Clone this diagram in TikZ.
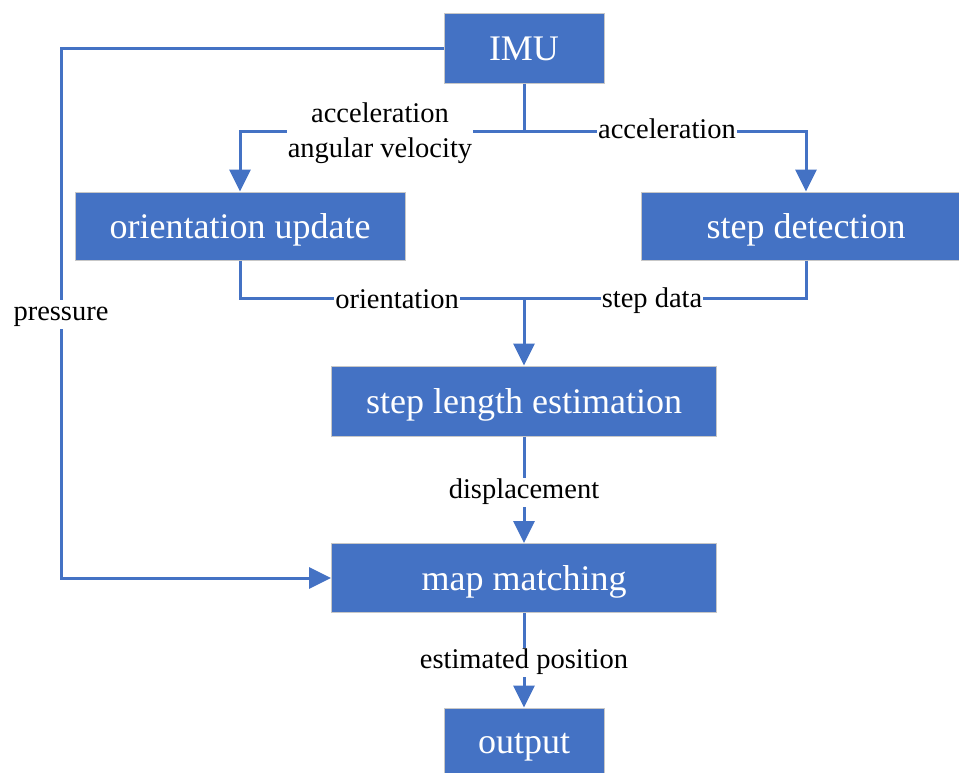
\documentclass[tikz,border=0pt]{standalone}
\usepackage{fontspec}
\setmainfont{Liberation Serif}
\usetikzlibrary{arrows.meta}
\usetikzlibrary{positioning}

\definecolor{boxblue}{HTML}{4472C4}
\tikzset{
  block/.style={draw=black!22, line width=1pt, fill=boxblue, text=white,
    font=\fontsize{36}{40}\selectfont, inner sep=0pt, minimum height=69pt,
    text height=30pt, text depth=6pt},
  flow/.style={draw=boxblue, line width=3pt},
  arrow/.style={flow, -{Triangle[length=22pt,width=21pt]}},
  tagtext/.style={fill=white, inner sep=1pt, align=center,
    font=\fontsize{28.5}{35}\selectfont},
  tag/.style={tagtext, text height=20pt, text depth=7pt},
}

\begin{document}
\begin{tikzpicture}[x=1pt,y=-1pt]
    \useasboundingbox (0,0) rectangle (959,772);
    % Place nodes
    \node [block, minimum width=160pt, minimum height=70pt] (imu) at (524,48) {IMU};
    \node [block, minimum width=330pt, minimum height=68pt] (orient) at (240,226) {orientation update};
    \node [block, minimum width=330pt, minimum height=68pt] (stepdet) at (806,226) {step detection};
    \node [block, minimum width=385pt, minimum height=70pt] (steplen) at (524,401) {step length estimation};
    \node [block, minimum width=385pt] (mapm) at (524,578) {map matching};
    \node [block, minimum width=160pt, minimum height=66pt] (output) at (524,741) {output};

    \coordinate (fork) at (524,131);
    \coordinate (merge) at (524,298);
    \coordinate (pleft) at (61,48);

    % Connectors
    \draw [flow] (imu.south) -- (fork);
    \draw [arrow] (fork) -| (orient.north);
    \draw [arrow] (fork) -| (stepdet.north);
    \draw [flow] (orient.south) |- (merge);
    \draw [flow] (stepdet.south) |- (merge);
    \draw [arrow] (merge) -- (steplen.north);
    \draw [arrow] (steplen.south) -- (mapm.north);
    \draw [arrow] (mapm.south) -- (output.north);
    \draw [arrow] (imu.west) -- (pleft) |- (mapm.west);

    % Labels
    \node [tagtext] (accgyro) at (380,133) {acceleration\\angular velocity};
    \node [tag] (acc) at (667,132) {acceleration};
    \node [tag] (orlab) at (397,302) {orientation};
    \node [tag] (sdlab) at (652,301) {step data};
    \node [tag] (press) at (61,314) {pressure};
    \node [tag] (disp) at (524,492) {displacement};
    \node [tag] (estpos) at (524,662) {estimated position};
\end{tikzpicture}
\end{document}
